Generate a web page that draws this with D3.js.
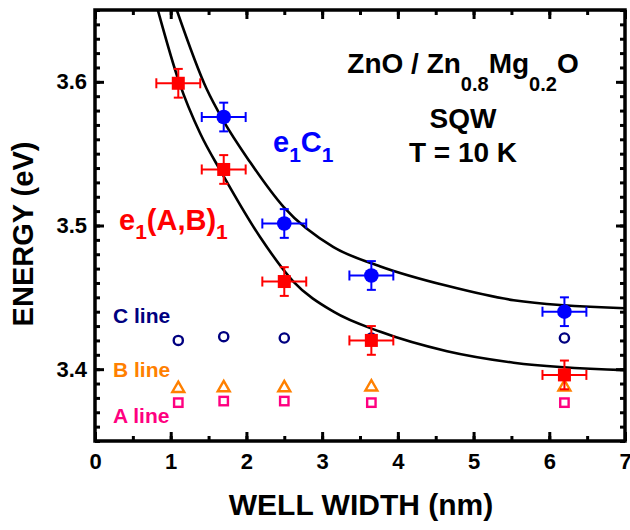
<!DOCTYPE html>
<html><head><meta charset="utf-8">
<script src="https://cdn.jsdelivr.net/npm/d3@7"></script>
<style>
body{margin:0;background:#fff;}
text{font-family:"Liberation Sans",Arial,Helvetica,sans-serif;font-weight:bold;}
</style></head>
<body><svg id="c" width="630" height="530"></svg>
<script>
// ---- data ----
const abWidth = [1.1, 1.7, 2.5, 3.65, 6.2];
const abEnergy = [3.599, 3.539, 3.461, 3.420, 3.396];
const abXErr = [0.29, 0.29, 0.29, 0.29, 0.29];
const abYErr = [0.01, 0.01, 0.01, 0.01, 0.01];

const cWidth = [1.7, 2.5, 3.65, 6.2];
const cEnergy = [3.5755, 3.5014, 3.4652, 3.440];
const cXErr = [0.29, 0.29, 0.29, 0.29];
const cYErr = [0.01, 0.01, 0.01, 0.01];

const lineWidth = [1.1, 1.7, 2.5, 3.65, 6.2];
const cLineE = [3.420, 3.4226, 3.4217, 3.4217, 3.4217];
const bLineE = [3.3865, 3.387, 3.387, 3.3876, 3.3876];
const aLineE = [3.3767, 3.3778, 3.3778, 3.3767, 3.3767];

const lowerCurveX = [0.83, 1.11, 1.39, 1.67, 2.18, 2.62, 3.15, 3.77, 4.65, 5.53, 7.0];
const lowerCurveE = [3.650, 3.600, 3.564, 3.537, 3.492, 3.461, 3.440, 3.426, 3.4125, 3.4045, 3.3993];
const upperCurveX = [1.08, 1.475, 1.695, 2.05, 2.49, 3.15, 3.77, 4.65, 5.53, 7.0];
const upperCurveE = [3.650, 3.595, 3.573, 3.544, 3.513, 3.485, 3.4715, 3.458, 3.448, 3.4424];

const xMajorTicks = [0, 1, 2, 3, 4, 5, 6, 7];
const yMajorTicks = [3.4, 3.5, 3.6];

// ---- layout ----
const svg = d3.select("#c");
const L = 95, R = 625, T = 10, B = 441;
const x = d3.scaleLinear().domain([0, 7]).range([L, R]);
const y = d3.scaleLinear().domain([3.35, 3.65]).range([B, T]);

const xMinor = d3.range(0, 7.001, 0.5);
const yMinor = d3.range(0, 31).map(i => 3.35 + i * 0.01);

function tickStyle(g, w) {
  g.select(".domain").remove();
  g.selectAll(".tick line").attr("stroke", "#000").attr("stroke-width", w);
  g.selectAll(".tick text").attr("font-size", 22).attr("fill", "#000");
}
// bottom
svg.append("g").attr("transform", `translate(0,${B})`)
  .call(d3.axisBottom(x).tickValues(xMinor).tickSize(-5).tickFormat("")).call(g => tickStyle(g, 3));
svg.append("g").attr("transform", `translate(0,${B})`)
  .call(d3.axisBottom(x).tickValues(xMajorTicks).tickSize(-9).tickPadding(12).tickFormat(d3.format("d"))).call(g => tickStyle(g, 3));
// top
svg.append("g").attr("transform", `translate(0,${T})`)
  .call(d3.axisTop(x).tickValues(xMinor).tickSize(-5).tickFormat("")).call(g => tickStyle(g, 3));
svg.append("g").attr("transform", `translate(0,${T})`)
  .call(d3.axisTop(x).tickValues(xMajorTicks).tickSize(-9).tickFormat("")).call(g => tickStyle(g, 3));
// left
svg.append("g").attr("transform", `translate(${L},0)`)
  .call(d3.axisLeft(y).tickValues(yMinor).tickSize(-5).tickFormat("")).call(g => tickStyle(g, 3));
svg.append("g").attr("transform", `translate(${L},0)`)
  .call(d3.axisLeft(y).tickValues(yMajorTicks).tickSize(-9).tickPadding(8).tickFormat(d3.format(".1f"))).call(g => tickStyle(g, 3));
// right
svg.append("g").attr("transform", `translate(${R},0)`)
  .call(d3.axisRight(y).tickValues(yMinor).tickSize(-5).tickFormat("")).call(g => tickStyle(g, 3));
svg.append("g").attr("transform", `translate(${R},0)`)
  .call(d3.axisRight(y).tickValues(yMajorTicks).tickSize(-9).tickFormat("")).call(g => tickStyle(g, 3));

// clip
svg.append("clipPath").attr("id", "clip").append("rect")
  .attr("x", L).attr("y", T).attr("width", R - L).attr("height", B - T);

const line = d3.line().x(d => x(d[0])).y(d => y(d[1])).curve(d3.curveMonotoneX);
const gc = svg.append("g").attr("clip-path", "url(#clip)");
gc.append("path").attr("d", line(lowerCurveX.map((v, i) => [v, lowerCurveE[i]])))
  .attr("fill", "none").attr("stroke", "#000").attr("stroke-width", 2.6);
gc.append("path").attr("d", line(upperCurveX.map((v, i) => [v, upperCurveE[i]])))
  .attr("fill", "none").attr("stroke", "#000").attr("stroke-width", 2.6);

// open markers
const navy = "#000080", orange = "#ff8000", pink = "#ff0080";
svg.append("g").selectAll("circle").data(lineWidth).join("circle")
  .attr("cx", d => x(d)).attr("cy", (d, i) => y(cLineE[i])).attr("r", 4.6)
  .attr("fill", "none").attr("stroke", navy).attr("stroke-width", 2.4);
svg.append("g").selectAll("path").data(lineWidth).join("path")
  .attr("transform", (d, i) => `translate(${x(d)},${y(bLineE[i])})`)
  .attr("d", d3.symbol().type(d3.symbolTriangle).size(62)())
  .attr("fill", "none").attr("stroke", orange).attr("stroke-width", 2.4);
svg.append("g").selectAll("rect").data(lineWidth).join("rect")
  .attr("x", d => x(d) - 4.2).attr("y", (d, i) => y(aLineE[i]) - 4.2)
  .attr("width", 8.4).attr("height", 8.4)
  .attr("fill", "none").attr("stroke", pink).attr("stroke-width", 2.4);

// error bars
function errorBars(xs, ys, xe, ye, color) {
  const g = svg.append("g").attr("stroke", color).attr("stroke-width", 2);
  xs.forEach((xv, i) => {
    const cx = x(xv), cy = y(ys[i]);
    const x0 = x(xv - xe[i]), x1 = x(xv + xe[i]);
    const y0 = y(ys[i] - ye[i]), y1 = y(ys[i] + ye[i]);
    g.append("line").attr("x1", x0).attr("x2", x1).attr("y1", cy).attr("y2", cy);
    g.append("line").attr("x1", x0).attr("x2", x0).attr("y1", cy - 5).attr("y2", cy + 5);
    g.append("line").attr("x1", x1).attr("x2", x1).attr("y1", cy - 5).attr("y2", cy + 5);
    g.append("line").attr("x1", cx).attr("x2", cx).attr("y1", y0).attr("y2", y1);
    g.append("line").attr("x1", cx - 4.5).attr("x2", cx + 4.5).attr("y1", y0).attr("y2", y0);
    g.append("line").attr("x1", cx - 4.5).attr("x2", cx + 4.5).attr("y1", y1).attr("y2", y1);
  });
}
errorBars(cWidth, cEnergy, cXErr, cYErr, "#0000ff");
svg.append("g").selectAll("circle").data(cWidth).join("circle")
  .attr("cx", d => x(d)).attr("cy", (d, i) => y(cEnergy[i])).attr("r", 7.3)
  .attr("fill", "#0000ff");
errorBars(abWidth, abEnergy, abXErr, abYErr, "#ff0000");
svg.append("g").selectAll("rect").data(abWidth).join("rect")
  .attr("x", d => x(d) - 6.5).attr("y", (d, i) => y(abEnergy[i]) - 6.5)
  .attr("width", 13).attr("height", 13).attr("fill", "#ff0000");

// frame
svg.append("rect").attr("x", L).attr("y", T).attr("width", R - L).attr("height", B - T)
  .attr("fill", "none").attr("stroke", "#000").attr("stroke-width", 3.5);

// axis titles
svg.append("text").attr("x", (L + R) / 2 + 1).attr("y", 515).attr("text-anchor", "middle")
  .attr("font-size", 30).text("WELL WIDTH (nm)");
svg.append("text").attr("transform", "translate(33,234) rotate(-90)").attr("text-anchor", "middle")
  .attr("font-size", 29).text("ENERGY (eV)");

// annotations
function sub(t, parts, big, small, shift) {
  parts.forEach(p => {
    t.append("tspan").attr("font-size", p[1] ? small : big)
      .attr("dy", p[1] ? shift : (p[2] ? -shift : 0)).text(p[0]);
  });
}
const t1 = svg.append("text").attr("x", 463).attr("y", 73).attr("text-anchor", "middle").attr("fill", "#000");
sub(t1, [["ZnO / Zn", 0], ["0.8", 1], ["Mg", 0, 1], ["0.2", 1], ["O", 0, 1]], 28, 20, 18);
svg.append("text").attr("x", 463).attr("y", 128).attr("text-anchor", "middle").attr("font-size", 28).text("SQW");
svg.append("text").attr("x", 463).attr("y", 162).attr("text-anchor", "middle").attr("font-size", 28).text("T = 10 K");

const t2 = svg.append("text").attr("x", 273).attr("y", 152).attr("fill", "#0000ff");
sub(t2, [["e", 0], ["1", 1], ["C", 0, 1], ["1", 1]], 29, 21, 10);
const t3 = svg.append("text").attr("x", 119).attr("y", 230).attr("fill", "#ff0000");
sub(t3, [["e", 0], ["1", 1], ["(A,B)", 0, 1], ["1", 1]], 29, 21, 9);

svg.append("text").attr("x", 113).attr("y", 323).attr("font-size", 21).attr("fill", navy).text("C line");
svg.append("text").attr("x", 113).attr("y", 377).attr("font-size", 21).attr("fill", orange).text("B line");
svg.append("text").attr("x", 113).attr("y", 423).attr("font-size", 21).attr("fill", pink).text("A line");
</script></body></html>
